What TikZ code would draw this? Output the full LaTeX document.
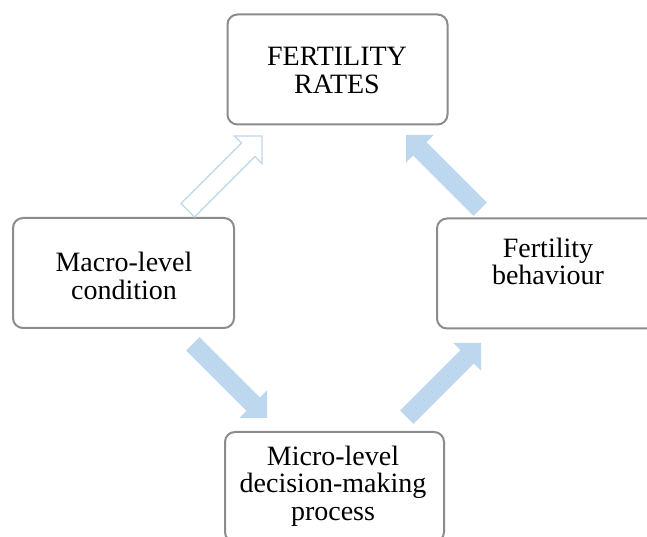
\documentclass[tikz,border=0pt]{standalone}
\usepackage{fontspec}
\setmainfont{Liberation Serif}
\definecolor{boxline}{RGB}{140,140,140}
\definecolor{arrowblue}{RGB}{189,215,238}
\tikzset{
  stagebox/.style={draw=boxline, line width=2pt, rounded corners=10pt, fill=white,
    minimum width=220pt, minimum height=110pt, inner sep=0pt},
  stagetext/.style={align=center, inner sep=0pt, font=\fontsize{28}{27.5}\selectfont},
  % block arrow, tip at the origin, pointing along +x
  blockarrow/.pic={
    \path[pic actions] (0,0) -- (-19.5,19.5) -- (-19.5,9.5) -- (-105,9.5)
      -- (-105,-9.5) -- (-19.5,-9.5) -- (-19.5,-19.5) -- cycle;
  },
  solidarrow/.style={fill=arrowblue},
  hollowarrow/.style={draw=arrowblue, line width=1.3pt, fill=white},
}
\begin{document}
\begin{tikzpicture}[x=1pt, y=1pt]
  \useasboundingbox (0,0) rectangle (647,537);
  \fill[white] (0,0) rectangle (647,537);
  \clip (0,0) rectangle (647,537);

  % the four stages
  \node[stagebox] (rates) at (337.5,467.5) {};
  \node[stagebox, minimum width=221pt] (macro) at (123.5,264) {};
  \node[stagebox, minimum width=222pt] (behav) at (548,263.5) {};
  \node[stagebox, minimum width=219pt] (micro) at (334.5,50) {};

  \node[stagetext] (ratesT) at (337,466.3) {FERTILITY\\RATES};
  \node[stagetext] (macroT) at (124,261) {Macro-level\\condition};
  \node[stagetext] (behavT) at (548,275.5) {Fertility\\behaviour};
  \node[stagetext] (microT) at (333,51) {Micro-level\\decision-making\\process};

  % tips of the block arrows
  \coordinate (tipA) at (262,401);
  \coordinate (tipB) at (406,402);
  \coordinate (tipC) at (267,119);
  \coordinate (tipD) at (481,194);

  \pic[hollowarrow, rotate=45] (macroToRates) at (tipA) {blockarrow};
  \pic[solidarrow, rotate=135] (behavToRates) at (tipB) {blockarrow};
  \pic[solidarrow, rotate=-45] (macroToMicro) at (tipC) {blockarrow};
  \pic[solidarrow, rotate=45] (microToBehav) at (tipD) {blockarrow};
\end{tikzpicture}
\end{document}
